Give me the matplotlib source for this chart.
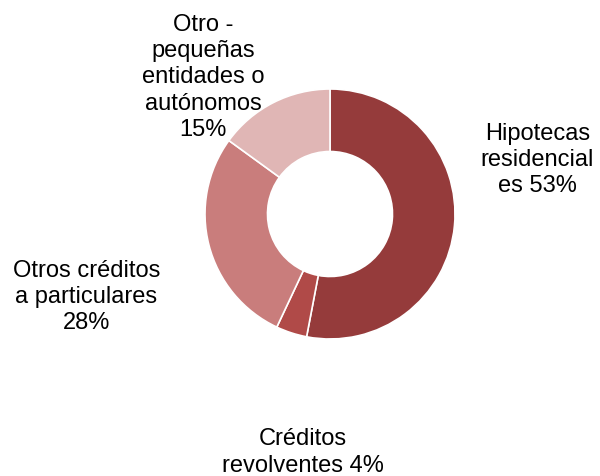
import matplotlib.pyplot as plt

plt.rcParams['font.family'] = ['Liberation Sans', 'DejaVu Sans']

# composición de la cartera de crédito
categorias = ['Hipotecas\nresidencial\nes', 'Créditos\nrevolventes', 'Otros créditos\na particulares',
              'Otro -\npequeñas\nentidades o\nautónomos']
porcentajes = [53, 4, 28, 15]
colores = ['#953B3B', '#B04A48', '#C97D7C', '#E0B6B5']

# posición de cada etiqueta (en unidades del radio)
pos_etiquetas = [(1.66, 0.44), (-0.22, -1.90), (-1.95, -0.656), (-1.016, 1.10)]
separador = [' ', ' ', '\n', '\n']

fig = plt.figure(figsize=(6, 4.77), dpi=100)
ax = fig.add_axes([0, 0, 1, 1])

ax.pie(porcentajes, colors=colores, startangle=90, counterclock=False,
       radius=1, wedgeprops=dict(width=0.5, edgecolor='white', linewidth=1.2))

for cat, val, (x, y), sep in zip(categorias, porcentajes, pos_etiquetas, separador):
    ax.text(x, y, f'{cat}{sep}{val}%', ha='center', va='center', fontsize=17,
            linespacing=1.24, color='black')

ax.set_xlim(-2.64, 2.16)
ax.set_ylim(-2.096, 1.72)
ax.set_aspect('equal')
ax.axis('off')

fig.savefig('out.png', dpi=100)
